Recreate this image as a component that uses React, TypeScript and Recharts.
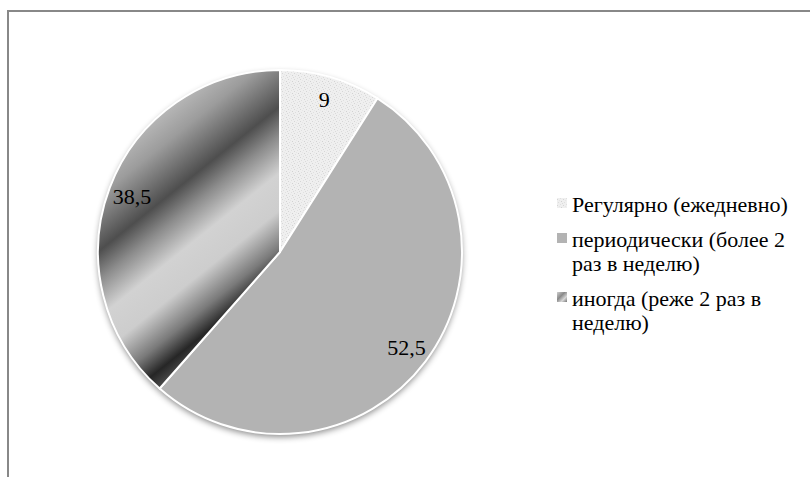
import React from 'react';
import { PieChart, Pie, Cell, Legend } from 'recharts';

const categories = ['Регулярно (ежедневно)', 'периодически (более 2 раз в неделю)', 'иногда (реже 2 раз в неделю)'];
const values = [9, 52.5, 38.5];
const valueLabels = ['9', '52,5', '38,5'];

const fills = ['url(#speckle)', '#b3b3b3', 'url(#stripes)'];
const legendFills = ['url(#speckle)', '#b3b3b3', 'url(#stripesSmall)'];

const data = categories.map((name, i) => ({ name, value: values[i], label: valueLabels[i] }));

const CX = 275;
const CY = 247;
const R = 182;
const RAD = Math.PI / 180;
const FONT = "'Liberation Serif', 'Times New Roman', serif";

// gradient axis runs top-left -> bottom-right across the 38,5 slice
const UX = 0.625;
const UY = 0.781;
const S1 = -190;
const S2 = 35;

const renderLabel = (props: any) => {
    const { cx, cy, midAngle, outerRadius, index } = props;
    const r = outerRadius * 0.87;
    const x = cx + r * Math.cos(-midAngle * RAD);
    const y = cy + r * Math.sin(-midAngle * RAD);
    return (
        <text x={x} y={y} textAnchor="middle" dominantBaseline="central" fill="#000" style={{ fontFamily: FONT }} fontSize={22}>
            {data[index].label}
        </text>
    );
};

const LegendContent = () => (
    <div style={{ fontFamily: FONT, fontSize: 22, lineHeight: '24px', color: '#000', width: 245 }}>
        {categories.map((name, i) => (
            <div key={name} style={{ display: 'flex', alignItems: 'flex-start', marginBottom: 11 }}>
                <svg width={10} height={10} style={{ marginTop: 5, marginRight: 5, flexShrink: 0 }}>
                    <rect width={10} height={10} fill={legendFills[i]} />
                </svg>
                <span>{name}</span>
            </div>
        ))}
    </div>
);

const App: React.FC = () => {
    return (
        <div style={{ position: 'fixed', left: 0, top: 0, width: 810, height: 477, overflow: 'hidden', background: '#fff' }}>
            <svg width={0} height={0} style={{ position: 'absolute' }}>
                <defs>
                    <pattern id="speckle" width="6" height="6" patternUnits="userSpaceOnUse">
                        <rect width="6" height="6" fill="#efefef" />
                        <rect x="0" y="1" width="1" height="1" fill="#d6d6d6" />
                        <rect x="3" y="0" width="1" height="1" fill="#e0e0e0" />
                        <rect x="4" y="3" width="1" height="1" fill="#d2d2d2" />
                        <rect x="1" y="4" width="1" height="1" fill="#dedede" />
                        <rect x="2" y="2" width="1" height="1" fill="#e6e6e6" />
                        <rect x="5" y="5" width="1" height="1" fill="#dadada" />
                    </pattern>
                    <linearGradient id="stripes" gradientUnits="userSpaceOnUse"
                        x1={CX + S1 * UX} y1={CY + S1 * UY} x2={CX + S2 * UX} y2={CY + S2 * UY}>
                        <stop offset="0" stopColor="#c6c6c6" />
                        <stop offset="0.18" stopColor="#9c9c9c" />
                        <stop offset="0.37" stopColor="#4e4e4e" />
                        <stop offset="0.47" stopColor="#8c8c8c" />
                        <stop offset="0.6" stopColor="#d2d2d2" />
                        <stop offset="0.73" stopColor="#cdcdcd" />
                        <stop offset="0.86" stopColor="#7a7a7a" />
                        <stop offset="0.95" stopColor="#262626" />
                        <stop offset="1" stopColor="#444" />
                    </linearGradient>
                    <linearGradient id="stripesSmall" x1="0" y1="0" x2="1" y2="1">
                        <stop offset="0" stopColor="#d0d0d0" />
                        <stop offset="0.4" stopColor="#8a8a8a" />
                        <stop offset="0.7" stopColor="#d6d6d6" />
                        <stop offset="1" stopColor="#777" />
                    </linearGradient>
                    <filter id="pieShadow" x="-20%" y="-20%" width="140%" height="140%">
                        <feDropShadow dx="0" dy="3" stdDeviation="3" floodColor="#000" floodOpacity="0.45" />
                    </filter>
                </defs>
            </svg>
            <div style={{ position: 'absolute', left: 7, top: 10, width: 900, height: 600, borderTop: '2px solid #888', borderLeft: '2px solid #888' }} />
            <div style={{ position: 'absolute', left: 0, top: 0 }}>
                <PieChart width={810} height={477}>
                    <Pie data={data} dataKey="value" nameKey="name" cx={CX} cy={CY} outerRadius={R}
                        startAngle={90} endAngle={-270} stroke="none" isAnimationActive={false} legendType="none">
                        {data.map((d) => (
                            <Cell key={d.name} fill="#fff" filter="url(#pieShadow)" />
                        ))}
                    </Pie>
                    <Pie data={data} dataKey="value" nameKey="name" cx={CX} cy={CY} outerRadius={R}
                        startAngle={90} endAngle={-270} stroke="#fff" strokeWidth={2}
                        label={renderLabel} labelLine={false} isAnimationActive={false}>
                        {data.map((d, i) => (
                            <Cell key={d.name} fill={fills[i]} />
                        ))}
                    </Pie>
                    <Legend content={<LegendContent />} layout="vertical"
                        wrapperStyle={{ position: 'absolute', left: 557, top: 193, width: 250 }} />
                </PieChart>
            </div>
        </div>
    );
};

export default App;
